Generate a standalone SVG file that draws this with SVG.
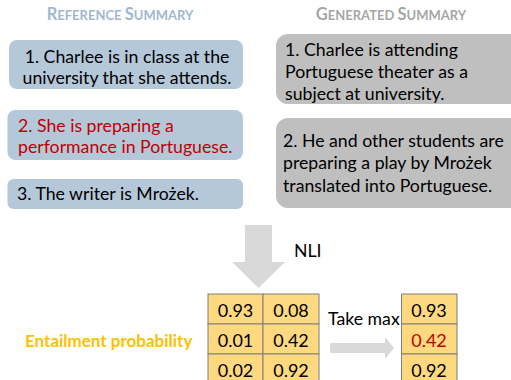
<svg xmlns="http://www.w3.org/2000/svg" width="511" height="380" viewBox="0 0 511 380">
<defs>
<style>
text { font-family: Lato, "Noto Sans", sans-serif; }
.t { font-size: 17.7px; fill: #000; }
.red { fill: #c00000; }
.ref { fill: #b5c8da; }
.gen { fill: #bfbfbf; }
.title { font-weight: bold; font-size: 16.5px; }
.sc { font-size: 13px; }
.cell { fill: #ffd97f; stroke: #7f7f7f; stroke-width: 1; }
.num { font-size: 18px; text-anchor: middle; fill: #000; }
.arrow { fill: #d9d9d9; }
</style>
</defs>
<g id="title-ref">
<text class="title" x="120" y="20" text-anchor="middle" fill="#9fb8d0">R<tspan class="sc">EFERENCE </tspan>S<tspan class="sc">UMMARY</tspan></text>
</g>
<g id="title-gen">
<text class="title" x="391" y="20" text-anchor="middle" fill="#a6a6a6">G<tspan class="sc">ENERATED </tspan>S<tspan class="sc">UMMARY</tspan></text>
</g>
<g id="ref1">
<rect class="ref" x="9" y="40" width="234" height="49" rx="8"/>
<text class="t" x="127" y="63" text-anchor="middle">1. Charlee is in class at the</text>
<text class="t" x="127" y="84" text-anchor="middle">university that she attends.</text>
</g>
<g id="ref2">
<rect class="ref" x="7.5" y="110" width="235.5" height="50" rx="8"/>
<text class="t red" x="18" y="132">2. She is preparing a</text>
<text class="t red" x="18" y="153">performance in Portuguese.</text>
</g>
<g id="ref3">
<rect class="ref" x="7.5" y="179" width="235.5" height="30" rx="6"/>
<text class="t" x="17" y="200">3. The writer is Mrożek.</text>
</g>
<g id="gen1">
<rect class="gen" x="276" y="34" width="260" height="70" rx="12"/>
<text class="t" x="285" y="56">1. Charlee is attending</text>
<text class="t" x="285" y="78">Portuguese theater as a</text>
<text class="t" x="285" y="100">subject at university.</text>
</g>
<g id="gen2">
<rect class="gen" x="276" y="118" width="260" height="90" rx="12"/>
<text class="t" x="283" y="147">2. He and other students are</text>
<text class="t" x="283" y="169">preparing a play by Mrożek</text>
<text class="t" x="283" y="192">translated into Portuguese.</text>
</g>
<g id="connectors">
<polygon class="arrow" points="245,225 272,225 272,262 285,262 258.5,288 232,262 245,262"/>
<polygon class="arrow" points="330,343 385,343 385,337 394,348 385,359 385,353 330,353"/>
</g>
<g id="nli-label">
<text class="t" x="294" y="257">NLI</text>
</g>
<g id="takemax-label">
<text class="t" x="328" y="325">Take max</text>
</g>
<g id="entail-label">
<text class="t" x="25" y="347" font-weight="bold" style="fill:#ffc000;font-size:17px">Entailment probability</text>
</g>
<g id="matrix">
<rect class="cell" x="208" y="294" width="55" height="30"/>
<rect class="cell" x="263" y="294" width="56" height="30"/>
<rect class="cell" x="208" y="324" width="55" height="30"/>
<rect class="cell" x="263" y="324" width="56" height="30"/>
<rect class="cell" x="208" y="354" width="55" height="30"/>
<rect class="cell" x="263" y="354" width="56" height="30"/>
<text class="num" x="235.5" y="317">0.93</text>
<text class="num" x="291" y="317">0.08</text>
<text class="num" x="235.5" y="347">0.01</text>
<text class="num" x="291" y="347">0.42</text>
<text class="num" x="235.5" y="377">0.02</text>
<text class="num" x="291" y="377">0.92</text>
</g>
<g id="maxcol">
<rect class="cell" x="401.5" y="294" width="55.5" height="30"/>
<rect class="cell" x="401.5" y="324" width="55.5" height="30"/>
<rect class="cell" x="401.5" y="354" width="55.5" height="30"/>
<text class="num" x="429" y="317">0.93</text>
<text class="num" x="429" y="347" style="fill:#c00000">0.42</text>
<text class="num" x="429" y="377">0.92</text>
</g>
</svg>
